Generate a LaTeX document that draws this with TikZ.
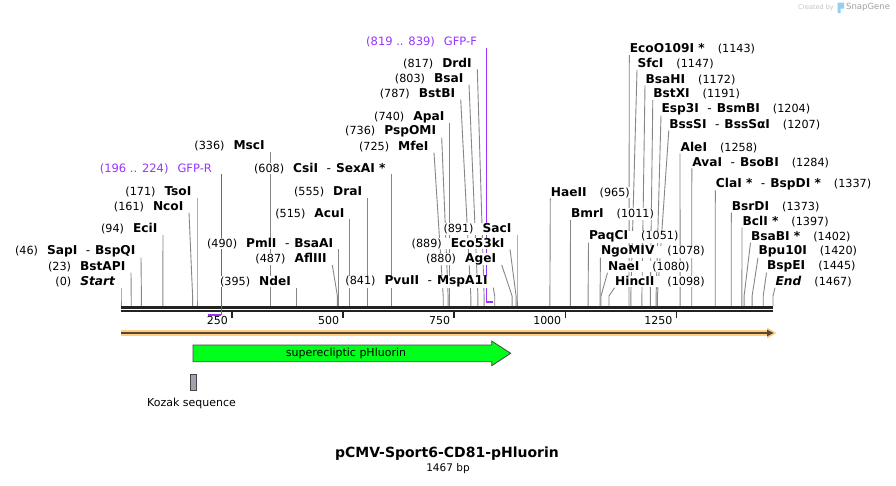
\documentclass[tikz,border=0pt]{standalone}
\usepackage{fontspec}
\setmainfont{DejaVu Sans}
\usetikzlibrary{calc}
\pgfdeclarelayer{paper}
\pgfdeclarelayer{bg}
\pgfsetlayers{paper,bg,main}
\definecolor{sitegray}{RGB}{135,135,135}
\definecolor{axisdark}{RGB}{34,34,34}
\definecolor{primer}{RGB}{153,51,255}
\definecolor{gfpgreen}{RGB}{0,255,26}
\definecolor{arrowedge}{RGB}{70,70,70}
\definecolor{orangeband}{RGB}{255,204,128}
\definecolor{orangecore}{RGB}{85,72,50}
\definecolor{kozakfill}{RGB}{160,164,172}
\definecolor{wmlight}{RGB}{195,195,195}
\definecolor{wmdark}{RGB}{160,160,160}
\definecolor{wmblue}{RGB}{150,205,240}

\newcommand\nm[1]{{\fontsize{12.2}{13}\selectfont\bfseries #1}}
\newcommand\sepdash{{\mdseries\hspace{8.5pt}-\hspace{5pt}}}
% left-side site: name, y, line x, cut x, number, enzyme
\newcommand\LS[6]{%
  \node[lbl,anchor=east] (#1) at (#3-5,#2) {(#5)\hspace{9pt}\nm{#6}};
  \coordinate (#1-cut) at (#4,306);
  \begin{pgfonlayer}{bg}
    \draw[site] ($(#1.east)+(5,6)$) -- (#4,296) -- (#1-cut);
  \end{pgfonlayer}}
% right-side site: name, y, line x, cut x, enzyme, number
\newcommand\RS[6]{%
  \node[lbl,anchor=west] (#1) at (#3,#2) {\nm{#5}\hspace{13pt}(#6)};
  \coordinate (#1-cut) at (#4,306);
  \begin{pgfonlayer}{bg}
    \draw[site] ($(#1.west)+(0,6)$) -- (#4,296) -- (#1-cut);
  \end{pgfonlayer}}

\begin{document}
\begin{tikzpicture}[x=1pt,y=-1pt,
  lbl/.style={font=\fontsize{11.2}{13}\selectfont,inner sep=0.4pt,fill=white,text=black},
  site/.style={draw=sitegray,line width=0.9pt},
  primerline/.style={draw=primer,line width=1pt},
  primerbar/.style={draw=primer,line width=2pt},
  tickmark/.style={draw=axisdark,line width=1.8pt},
  ticklbl/.style={font=\fontsize{11}{13}\selectfont,inner sep=0pt,anchor=east},
  featlbl/.style={font=\fontsize{11}{13}\selectfont,inner sep=0pt},
]
\useasboundingbox (0,0) rectangle (896,485);
\begin{pgfonlayer}{paper}
  \fill[white] (0,0) rectangle (896,485);
\end{pgfonlayer}

% axis (background layer, below site lines)
\begin{pgfonlayer}{bg}
  \draw[axisdark,line width=2.6pt] (121,307.2) -- (773,307.2);
  \draw[axisdark,line width=2.4pt] (121,311.2) -- (773,311.2);
\end{pgfonlayer}

% ticks
\foreach \p in {250,500,750,1000,1250}{
  \pgfmathsetmacro\tx{121+\p*0.4444444}
  \coordinate (tk\p) at (\tx,318);
  \draw[tickmark] (\tx,312) -- (tk\p);
  \node[ticklbl] (tl\p) at (\tx-4,320.5) {\p};
}

% primers
\node[lbl,font=\fontsize{11.5}{13}\selectfont,text=primer,anchor=east] (gfpR) at (221-8.5,169.3) {(196 .. 224)\hspace{9pt}GFP-R};
\coordinate (gfpR-bar) at (221,315);
\coordinate (gfpR-end) at (208,315);
\begin{pgfonlayer}{bg}
  \draw[primerline] ($(gfpR.east)+(8.5,5)$) -- (gfpR-bar);
\end{pgfonlayer}
\draw[primerbar] (gfpR-end) -- (gfpR-bar);

\node[lbl,font=\fontsize{11.5}{13}\selectfont,text=primer,anchor=east] (gfpF) at (486-8.5,42.3) {(819 .. 839)\hspace{9pt}GFP-F};
\coordinate (gfpF-bar) at (486,302);
\coordinate (gfpF-end) at (493,302);
\begin{pgfonlayer}{bg}
  \draw[primerline] ($(gfpF.east)+(8.5,6)$) -- (gfpF-bar);
\end{pgfonlayer}
\draw[primerbar] (gfpF-bar) -- (gfpF-end);

% left-side sites
\LS{start}{281.7}{121}{121}{0}{\textit{Start}}
\LS{bstapi}{266.7}{131}{131.2}{23}{BstAPI}
\LS{sapi}{251.7}{141}{141.4}{46}{SapI\sepdash BspQI}
\LS{ecii}{229}{163}{162.8}{94}{EciI}
\LS{ncoi}{206.7}{189}{192.6}{161}{NcoI}
\LS{tsoi}{191.7}{197}{197}{171}{TsoI}
\LS{msci}{146}{270.3}{270.3}{336}{MscI}
\LS{ndei}{281.7}{296.5}{296.5}{395}{NdeI}
\LS{afliii}{259}{332.3}{337.4}{487}{AflIII}
\LS{pmli}{243.3}{338.8}{338.8}{490}{PmlI\sepdash BsaAI}
\LS{acui}{213.3}{349.9}{349.9}{515}{AcuI}
\LS{drai}{191.7}{367.7}{367.7}{555}{DraI}
\LS{csii}{168.3}{391.2}{391.2}{608}{CsiI\sepdash SexAI~*}
\LS{mfei}{146.7}{434}{443.2}{725}{MfeI}
\LS{pspomi}{131.7}{441.7}{448.1}{736}{PspOMI}
\LS{apai}{117.3}{449.9}{449.9}{740}{ApaI}
\LS{bstbi}{93.3}{460.7}{470.8}{787}{BstBI}
\LS{bsai}{78.7}{469}{477.9}{803}{BsaI}
\LS{drdi}{63.3}{477.3}{484.1}{817}{DrdI}
\LS{pvuii}{281.7}{493.3}{494.7}{841}{PvuII\sepdash MspA1I}
\LS{agei}{259}{501.7}{512.1}{880}{AgeI}
\LS{ecofiftythree}{243.3}{510}{516.1}{889}{Eco53kI}
\LS{saci}{229}{517}{517}{891}{SacI}

% right-side sites
\RS{haeii}{192.3}{550.3}{549.9}{HaeII}{965}
\RS{bmri}{214}{570.5}{570.3}{BmrI}{1011}
\RS{paqci}{236.7}{588.5}{588.1}{PaqCI}{1051}
\RS{ngomiv}{251.7}{600.4}{600.1}{NgoMIV}{1078}
\RS{naei}{266.7}{607.5}{601}{NaeI}{1080}
\RS{hincii}{281.7}{614.5}{609}{HincII}{1098}
\RS{ecoo}{49}{629.3}{629}{EcoO109I~*}{1143}
\RS{sfci}{64}{637}{630.8}{SfcI}{1147}
\RS{bsahi}{79.3}{645}{641.9}{BsaHI}{1172}
\RS{bstxi}{94}{652.8}{650.3}{BstXI}{1191}
\RS{espiii}{109.3}{661}{656.1}{Esp3I\sepdash BsmBI}{1204}
\RS{bsssi}{124.3}{668.8}{657.4}{BssSI\sepdash BssSαI}{1207}
\RS{alei}{147.3}{680}{680.1}{AleI}{1258}
\RS{avai}{162.3}{691.8}{691.7}{AvaI\sepdash BsoBI}{1284}
\RS{clai}{184.3}{715.3}{715.2}{ClaI~*\sepdash BspDI~*}{1337}
\RS{bsrdi}{206.7}{731.3}{731.2}{BsrDI}{1373}
\RS{bcli}{221.7}{742}{741.9}{BclI~*}{1397}
\RS{bsabi}{236.7}{750.5}{744.1}{BsaBI~*}{1402}
\RS{bputen}{251.7}{758}{752.1}{Bpu10I}{1420}
\RS{bspei}{266.7}{766.5}{763.2}{BspEI}{1445}
\RS{endsite}{281.7}{775}{773}{\textit{End}}{1467}

% orange sequence arrow
\fill[orangeband] (121,330.3) rectangle (769,335.7);
\fill[orangeband] (767,327.5) -- (776.5,333) -- (767,338.5) -- cycle;
\draw[orangecore,line width=1.8pt] (121,333) -- (768,333);
\fill[orangecore] (767,329.6) -- (773.5,333) -- (767,336.4) -- cycle;

% GFP feature
\draw[arrowedge,fill=gfpgreen,line width=0.8pt]
  (193,345) -- (491.7,345) -- (491.7,341) -- (510.7,353.3) -- (491.7,365.7) -- (491.7,361.7) -- (193,361.7) -- cycle;
\node[featlbl] (gfplbl) at (346,353) {superecliptic pHluorin};

% Kozak
\node[draw=arrowedge,fill=kozakfill,line width=0.8pt,minimum width=6pt,minimum height=16.5pt,inner sep=0] (kozak) at (193,382.3) {};
\node[featlbl] (kozaklbl) at (191.5,403.5) {Kozak sequence};

% title
\node[font=\fontsize{14}{16}\selectfont\bfseries,inner sep=0] (title) at (447,454) {pCMV-Sport6-CD81-pHluorin};
\node[font=\fontsize{10.5}{12}\selectfont,inner sep=0] (len) at (448,469) {1467 bp};

% watermark
\node[font=\fontsize{6.5}{7}\selectfont,text=wmlight,anchor=east,inner sep=0] (wma) at (834,7.5) {Created by};
\fill[wmblue] (837.5,2.5) -- (844,2.5) -- (844,8.5) -- (840.5,8.5) -- (840.5,13) -- (837.5,13) -- cycle;
\node[font=\fontsize{8.5}{9}\selectfont,text=wmdark,anchor=west,inner sep=0] (wmb) at (846,7.5) {SnapGene};
\end{tikzpicture}
\end{document}
